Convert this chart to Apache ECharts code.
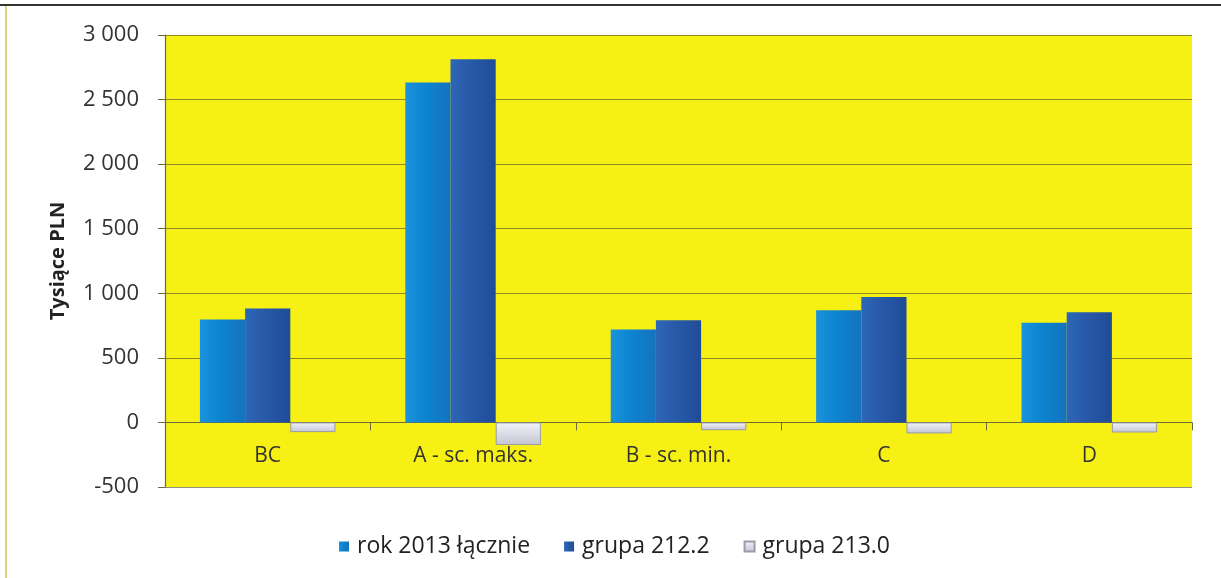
<!DOCTYPE html>
<html>
<head>
<meta charset="utf-8">
<script src="https://cdn.jsdelivr.net/npm/echarts@6/dist/echarts.min.js"></script>
<style>
  html, body { margin: 0; padding: 0; background: #ffffff; }
  #chart { width: 1221px; height: 578px; }
</style>
</head>
<body>
<div id="chart"></div>
<script>
// Scenario categories and series values (thousand PLN)
const categories = ['BC', 'A - sc. maks.', 'B - sc. min.', 'C', 'D'];
const seriesNames = ['rok 2013 łącznie', 'grupa 212.2', 'grupa 213.0'];
const total2013 = [797, 2632, 719, 868, 771];
const group2122 = [882, 2813, 791, 972, 853];
const group2130 = [-75, -175, -60, -85, -78];
const yTicks = { min: -500, max: 3000, interval: 500 };

const font = 'Open Sans, "Noto Sans", "DejaVu Sans", sans-serif';

function hGrad(a, b, c) {
  return new echarts.graphic.LinearGradient(0, 0, 1, 0, [
    { offset: 0, color: a }, { offset: 0.45, color: b }, { offset: 1, color: c }
  ]);
}

const chart = echarts.init(document.getElementById('chart'), null, { renderer: 'canvas' });

chart.setOption({
  backgroundColor: '#ffffff',
  animation: false,
  grid: {
    left: 165, right: 29, top: 35, bottom: 91,
    show: true, backgroundColor: '#f6f014', borderWidth: 0
  },
  legend: {
    left: 334, top: 530,
    itemWidth: 10, itemHeight: 10, itemGap: 34,
    icon: 'rect',
    textStyle: { fontFamily: font, fontSize: 23, color: '#222', padding: [0, 0, 0, 3] },
    data: seriesNames
  },
  xAxis: {
    type: 'category',
    data: categories,
    axisLine: { onZero: true, lineStyle: { color: '#6b6a3a', width: 1.2 } },
    axisTick: { show: true, length: 8, inside: false, lineStyle: { color: '#6b6a3a' } },
    // labels sit just under the zero line, inside the plot area
    axisLabel: { fontFamily: font, fontSize: 21, color: '#333', margin: -41 }
  },
  yAxis: {
    type: 'value',
    min: yTicks.min, max: yTicks.max, interval: yTicks.interval,
    name: 'Tysiące PLN',
    nameLocation: 'middle',
    nameGap: 97,
    nameRotate: 90,
    nameTextStyle: { fontFamily: font, fontSize: 20, fontWeight: 'bold', color: '#222' },
    axisLine: { show: true, lineStyle: { color: '#6b6a3a', width: 1.2 } },
    axisTick: { show: true, length: 7, lineStyle: { color: '#6b6a3a' } },
    axisLabel: {
      fontFamily: font, fontSize: 22, color: '#333', margin: 26,
      formatter: v => String(v).replace(/\B(?=(\d{3})+(?!\d))/g, ' ')
    },
    splitLine: { show: true, lineStyle: { color: 'rgba(70,70,40,0.6)', width: 1.2 } }
  },
  series: [
    {
      name: seriesNames[0], type: 'bar', data: total2013,
      barGap: '0%', barCategoryGap: '34%',
      itemStyle: { color: hGrad('#1b92dc', '#0c84cf', '#1672bd') }
    },
    {
      name: seriesNames[1], type: 'bar', data: group2122,
      itemStyle: { color: hGrad('#2d67b6', '#2859a8', '#1f4c98') }
    },
    {
      name: seriesNames[2], type: 'bar', data: group2130,
      itemStyle: {
        color: new echarts.graphic.LinearGradient(0, 0, 0, 1, [
          { offset: 0, color: '#f2f2f8' }, { offset: 0.5, color: '#dcdce8' }, { offset: 1, color: '#c4c4d2' }
        ]),
        borderColor: '#9a9aa8', borderWidth: 1
      }
    }
  ],
  graphic: [
    { type: 'line', shape: { x1: 0, y1: 5, x2: 1221, y2: 5 }, style: { stroke: '#333', lineWidth: 2 } },
    { type: 'line', shape: { x1: 6, y1: 6, x2: 6, y2: 578 }, style: { stroke: '#d6d28a', lineWidth: 2 } }
  ]
});
</script>
</body>
</html>
